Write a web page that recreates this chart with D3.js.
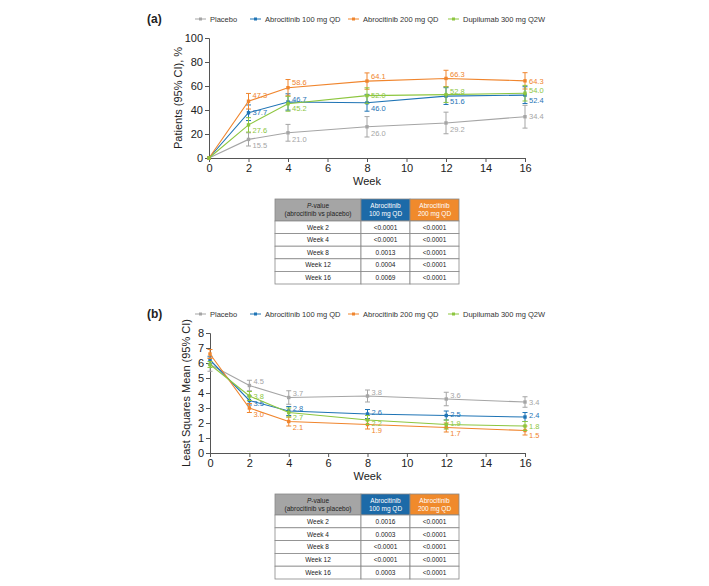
<!DOCTYPE html>
<html><head><meta charset="utf-8">
<script src="https://cdn.jsdelivr.net/npm/d3@7"></script>
<style>
body{margin:0;background:#fff;}
svg{font-family:"Liberation Sans",Arial,sans-serif;}
</style></head>
<body><svg id="c" width="709" height="586"></svg>
<script>
// ---------- DATA ----------
const weeks = [0, 2, 4, 8, 12, 16];
const seriesNames = ["Placebo", "Abrocitinib 100 mg QD", "Abrocitinib 200 mg QD", "Dupilumab 300 mg Q2W"];
// Panel (a): % patients
const aPlacebo = [0, 15.5, 21.0, 26.0, 29.2, 34.4];
const aAbro100 = [0, 37.7, 46.7, 46.0, 51.6, 52.4];
const aAbro200 = [0, 47.3, 58.6, 64.1, 66.3, 64.3];
const aDupi    = [0, 27.6, 45.2, 52.0, 52.8, 54.0];
const aPlaceboCI = [0, 5.5, 7.0, 8.5, 9.0, 9.5];
const aAbro100CI = [0, 6.5, 6.8, 7.0, 7.0, 7.0];
const aAbro200CI = [0, 6.5, 6.8, 6.8, 6.8, 6.8];
const aDupiCI    = [0, 6.0, 6.2, 6.5, 6.5, 6.5];
// Panel (b): least squares mean
const bPlacebo = [5.9, 4.5, 3.7, 3.8, 3.6, 3.4];
const bAbro100 = [6.2, 3.5, 2.8, 2.6, 2.5, 2.4];
const bAbro200 = [6.6, 3.0, 2.1, 1.9, 1.7, 1.5];
const bDupi    = [5.9, 3.8, 2.7, 2.2, 1.9, 1.8];
const bPlaceboCI = [0.45, 0.35, 0.45, 0.4, 0.45, 0.35];
const bAbro100CI = [0.25, 0.3, 0.3, 0.3, 0.3, 0.3];
const bAbro200CI = [0.3, 0.3, 0.3, 0.3, 0.3, 0.3];
const bDupiCI    = [0.2, 0.3, 0.3, 0.3, 0.3, 0.3];
// Ticks
const xTicks = [0, 2, 4, 6, 8, 10, 12, 14, 16];
const aYTicks = [0, 20, 40, 60, 80, 100];
const bYTicks = [0, 1, 2, 3, 4, 5, 6, 7, 8];
// Tables
const tableRows = ["Week 2", "Week 4", "Week 8", "Week 12", "Week 16"];
const aP100 = ["<0.0001", "<0.0001", "0.0013", "0.0004", "0.0069"];
const aP200 = ["<0.0001", "<0.0001", "<0.0001", "<0.0001", "<0.0001"];
const bP100 = ["0.0016", "0.0003", "<0.0001", "<0.0001", "0.0003"];
const bP200 = ["<0.0001", "<0.0001", "<0.0001", "<0.0001", "<0.0001"];

// ---------- STYLE / LAYOUT ----------
const colors = ["#a5a5a5", "#1f74b5", "#f0852d", "#8dc63f"];
const svg = d3.select("#c");
const axisColor = "#555";

function panel(opt) {
  const x = d3.scaleLinear().domain([0, 16]).range(opt.xr);
  const y = d3.scaleLinear().domain(opt.yd).range(opt.yr);
  const g = svg.append("g");
  // axes
  const xa = g.append("g").attr("transform", `translate(0,${opt.yr[0]})`)
    .call(d3.axisBottom(x).tickValues(xTicks).tickSize(4).tickPadding(2).tickFormat(d3.format("d")));
  const ya = g.append("g").attr("transform", `translate(${opt.xr[0]},0)`)
    .call(d3.axisLeft(y).tickValues(opt.yTicks).tickSize(4).tickPadding(2).tickFormat(d3.format("d")));
  [xa, ya].forEach(a => {
    a.selectAll("path,line").attr("stroke", axisColor).attr("stroke-width", 1);
    a.selectAll("text").attr("fill", "#222").style("font-size", "11px");
  });
  // axis titles
  g.append("text").attr("x", (opt.xr[0] + opt.xr[1]) / 2).attr("y", opt.yr[0] + 27)
    .attr("text-anchor", "middle").style("font-size", "11px").attr("fill", "#222").text("Week");
  g.append("text").attr("transform", `translate(${opt.xr[0] - opt.ytOff},${(opt.yr[0] + opt.yr[1]) / 2}) rotate(-90)`)
    .attr("text-anchor", "middle").style("font-size", "11px").attr("fill", "#222").text(opt.ytitle);
  // panel label
  g.append("text").attr("x", 147).attr("y", opt.legendY + 4).style("font-size", "12px").style("font-weight", "bold")
    .attr("fill", "#222").text(opt.label);
  // legend
  const legX = [195, 250, 348, 448];
  seriesNames.forEach((n, i) => {
    const lg = g.append("g").attr("transform", `translate(${legX[i]},${opt.legendY})`);
    lg.append("line").attr("x1", 0).attr("x2", 11).attr("stroke", colors[i]).attr("stroke-width", 1);
    lg.append("rect").attr("x", 4).attr("y", -1.5).attr("width", 3).attr("height", 3).attr("fill", colors[i]);
    lg.append("text").attr("x", 15).attr("y", 2.6).style("font-size", "7.5px").attr("fill", "#333").text(n);
  });
  // series
  const line = d3.line().x((d, i) => x(weeks[i])).y(d => y(d));
  opt.series.forEach((s, si) => {
    const sg = g.append("g");
    sg.append("path").datum(s.v).attr("d", line).attr("fill", "none").attr("stroke", colors[si]).attr("stroke-width", 1.1);
    s.v.forEach((v, i) => {
      const ci = s.ci[i];
      if (ci > 0) {
        const cx = x(weeks[i]), y1 = y(v + ci), y2 = y(v - ci);
        sg.append("line").attr("x1", cx).attr("x2", cx).attr("y1", y1).attr("y2", y2).attr("stroke", colors[si]).attr("stroke-width", 1);
        [y1, y2].forEach(yy => sg.append("line").attr("x1", cx - 2.5).attr("x2", cx + 2.5).attr("y1", yy).attr("y2", yy).attr("stroke", colors[si]).attr("stroke-width", 1));
      }
      sg.append("rect").attr("x", x(weeks[i]) - 1.7).attr("y", y(v) - 1.7).attr("width", 3.4).attr("height", 3.4).attr("fill", colors[si]);
      if (i > 0) {
        sg.append("text").attr("x", x(weeks[i]) + 4).attr("y", y(v) + s.dy[i] + 2.7)
          .style("font-size", "7.5px").attr("fill", colors[si]).text(opt.fmt(v));
      }
    });
  });
  // table
  const t = opt.table;
  const cols = [275, 361, 410, 459];
  const tg = g.append("g");
  const hdrFill = ["#a5a5a5", "#1c6aa8", "#f08a2c"];
  const fs = "6.5px";
  for (let c = 0; c < 3; c++) {
    tg.append("rect").attr("x", cols[c]).attr("y", t.y).attr("width", cols[c + 1] - cols[c]).attr("height", t.hh)
      .attr("fill", hdrFill[c]).attr("stroke", "#888").attr("stroke-width", 0.8);
  }
  const hx = c => (cols[c] + cols[c + 1]) / 2;
  const h1 = tg.append("text").attr("x", hx(0)).attr("y", t.y + 9).attr("text-anchor", "middle").style("font-size", fs).attr("fill", "#222");
  h1.append("tspan").style("font-style", "italic").text("P");
  h1.append("tspan").text("-value");
  tg.append("text").attr("x", hx(0)).attr("y", t.y + 17).attr("text-anchor", "middle").style("font-size", fs).attr("fill", "#222").text("(abrocitinib vs placebo)");
  [["Abrocitinib", "100 mg QD"], ["Abrocitinib", "200 mg QD"]].forEach((h, k) => {
    tg.append("text").attr("x", hx(k + 1)).attr("y", t.y + 9).attr("text-anchor", "middle").style("font-size", fs).attr("fill", "#fff").text(h[0]);
    tg.append("text").attr("x", hx(k + 1)).attr("y", t.y + 17).attr("text-anchor", "middle").style("font-size", fs).attr("fill", "#fff").text(h[1]);
  });
  tableRows.forEach((r, ri) => {
    const ry = t.y + t.hh + ri * t.rh;
    const vals = [r, t.c1[ri], t.c2[ri]];
    for (let c = 0; c < 3; c++) {
      tg.append("rect").attr("x", cols[c]).attr("y", ry).attr("width", cols[c + 1] - cols[c]).attr("height", t.rh)
        .attr("fill", "#fff").attr("stroke", "#888").attr("stroke-width", 0.8);
      tg.append("text").attr("x", hx(c)).attr("y", ry + t.rh / 2 + 2.3).attr("text-anchor", "middle")
        .style("font-size", fs).attr("fill", "#222").text(vals[c]);
    }
  });
}

panel({
  label: "(a)", legendY: 19,
  xr: [209, 525], yd: [0, 100], yr: [158, 38], yTicks: aYTicks, ytOff: 27,
  ytitle: "Patients (95% CI), %", fmt: d3.format(".1f"),
  series: [
    { v: aPlacebo, ci: aPlaceboCI, dy: [0, 6, 6, 6, 6, 0] },
    { v: aAbro100, ci: aAbro100CI, dy: [0, 0, -3, 5, 5, 5] },
    { v: aAbro200, ci: aAbro200CI, dy: [0, -6, -5, -5, -4, 0] },
    { v: aDupi, ci: aDupiCI, dy: [0, 5, 5, 0, -3, -3] }
  ],
  table: { y: 199, hh: 22, rh: 12.6, c1: aP100, c2: aP200 }
});

panel({
  label: "(b)", legendY: 314,
  xr: [210, 525], yd: [0, 8], yr: [453, 333], yTicks: bYTicks, ytOff: 20,
  ytitle: "Least Squares Mean (95% CI)", fmt: d3.format(".1f"),
  series: [
    { v: bPlacebo, ci: bPlaceboCI, dy: [0, -4, -4, -4, -4, 0] },
    { v: bAbro100, ci: bAbro100CI, dy: [0, 3, -3, -2, -1, -1.5] },
    { v: bAbro200, ci: bAbro200CI, dy: [0, 6, 6, 6, 6, 4.5] },
    { v: bDupi, ci: bDupiCI, dy: [0, 0, 5, 3, -1, 0.5] }
  ],
  table: { y: 494, hh: 21, rh: 12.8, c1: bP100, c2: bP200 }
});
</script></body></html>
